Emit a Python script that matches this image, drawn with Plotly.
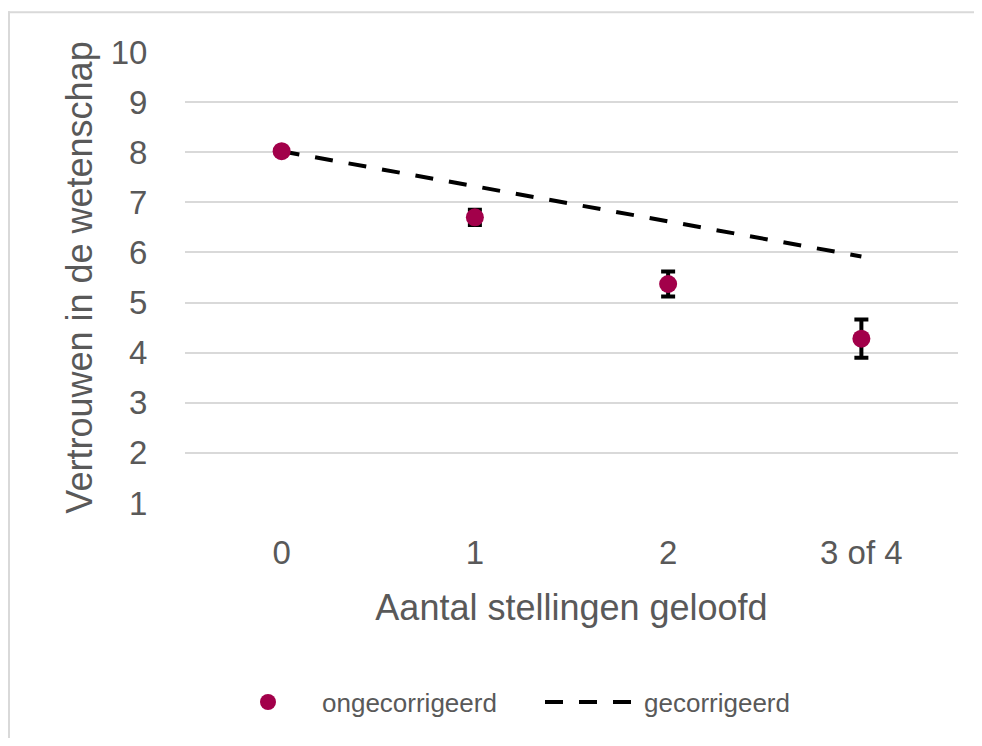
import plotly.graph_objects as go

categories = ["0", "1", "2", "3 of 4"]
ongecorrigeerd = [8.02, 6.70, 5.37, 4.28]
fout = [0.05, 0.15, 0.25, 0.38]
gecorrigeerd = [8.02, 7.32, 6.62, 5.92]
y_ticks = [1, 2, 3, 4, 5, 6, 7, 8, 9, 10]

OFF = 8  # page body margin
W, H = 982 - 2 * OFF, 746 - 2 * OFF
L, T = 185 - OFF, 52 - OFF
R = W - (958 - OFF)
B = H - (505 - OFF)
pw, ph = W - L - R, H - T - B

def px(x):
    return (x - OFF - L) / pw

def py(y):
    return (H - B - (y - OFF)) / ph

grey = "#595959"
font = "Liberation Sans, Arial, sans-serif"

fig = go.Figure()
fig.add_trace(go.Scatter(
    x=categories, y=gecorrigeerd, mode="lines", name="gecorrigeerd",
    line=dict(color="black", width=4, dash="18px,16px"),
    legend="legend2",
))
fig.add_trace(go.Scatter(
    x=categories, y=ongecorrigeerd, mode="markers", name="ongecorrigeerd",
    marker=dict(color="#A2004A", size=18),
    error_y=dict(type="data", array=fout, color="black", thickness=4, width=7),
    legend="legend",
))

edge = "#d9d9d9"
fig.update_layout(
    width=W, height=H,
    margin=dict(l=L, r=R, t=T, b=B),
    paper_bgcolor="white", plot_bgcolor="white",
    font=dict(family=font, color=grey),
    showlegend=True,
    legend=dict(orientation="h", x=px(214), xanchor="left", y=py(705), yanchor="middle",
                font=dict(size=26, color=grey, family=font), itemwidth=98,
                bgcolor="rgba(0,0,0,0)"),
    legend2=dict(orientation="h", x=px(540), xanchor="left", y=py(705), yanchor="middle",
                 font=dict(size=26, color=grey, family=font), itemwidth=94,
                 bgcolor="rgba(0,0,0,0)"),
    xaxis=dict(
        type="category", categoryorder="array", categoryarray=categories,
        range=[-0.5, 3.5], showgrid=False, zeroline=False, showline=False,
        ticks="outside", ticklen=20, tickcolor="rgba(0,0,0,0)",
        tickfont=dict(size=33, color=grey, family=font),
        title=dict(text="Aantal stellingen geloofd", font=dict(size=36, color=grey, family=font), standoff=25),
    ),
    yaxis=dict(
        range=[1, 10], tickvals=y_ticks, showgrid=True, gridcolor="#d9d9d9", gridwidth=2,
        zeroline=False, showline=False,
        ticks="outside", ticklen=30, tickcolor="rgba(0,0,0,0)",
        tickfont=dict(size=33, color=grey, family=font),
        title=dict(text="Vertrouwen in de wetenschap", font=dict(size=36, color=grey, family=font), standoff=7),
    ),
    shapes=[
        dict(type="rect", xref="paper", yref="paper",
             x0=px(8), x1=px(10), y0=py(746), y1=py(11),
             fillcolor=edge, line=dict(width=0), layer="below"),
        dict(type="rect", xref="paper", yref="paper",
             x0=px(8), x1=px(982), y0=py(13), y1=py(11),
             fillcolor=edge, line=dict(width=0), layer="below"),
    ],
)
fig.write_html("out.html")
